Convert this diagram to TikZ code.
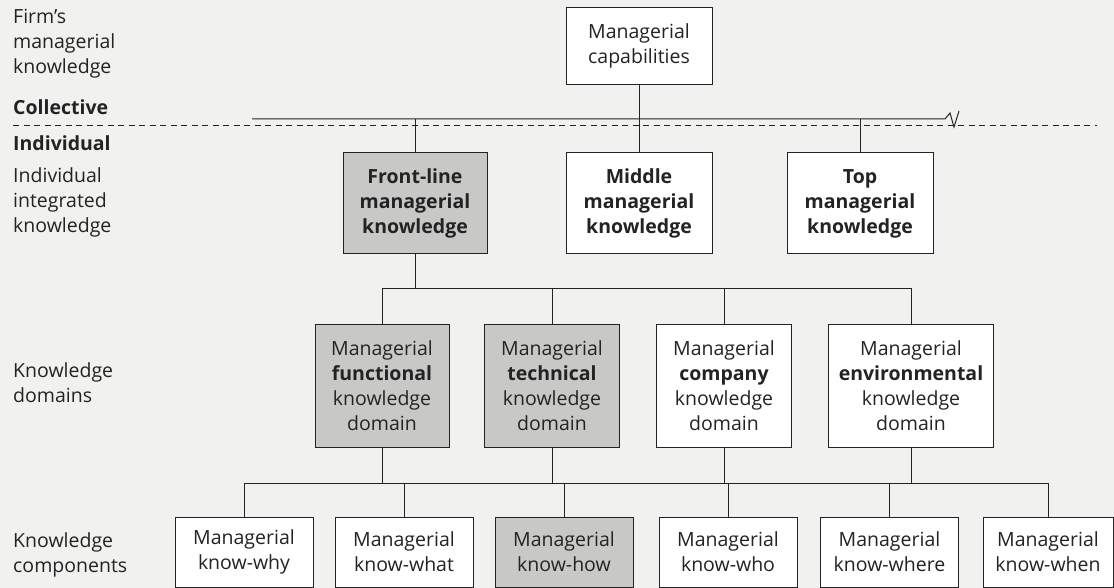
\documentclass[tikz,border=0pt]{standalone}
\usepackage{fontspec}
\setmainfont{Open Sans}
\usetikzlibrary{positioning}
\definecolor{paper}{RGB}{241,241,239}
\definecolor{boxgray}{RGB}{200,200,198}
\definecolor{ink}{RGB}{35,35,35}
\tikzset{
	box/.style={draw=ink,line width=1pt,fill=white,align=center,inner sep=0pt,text=ink,font=\fontsize{19.5}{25}\selectfont},
	shaded/.style={box,fill=boxgray},
	toprow/.style={minimum width=146pt,minimum height=101pt,font=\fontsize{19.5}{25}\selectfont\bfseries},
	domrow/.style={minimum width=135pt,minimum height=123pt},
	comprow/.style={minimum width=138pt,minimum height=70pt},
	sidetext/.style={anchor=west,align=left,inner sep=0pt,text=ink,font=\fontsize{19.5}{25}\selectfont},
	wire/.style={draw=ink,line width=1pt}
}
\begin{document}
\begin{tikzpicture}[x=1pt,y=-1pt]
	\fill[paper](0,0)rectangle(1114,588);
	% side labels
	\node[sidetext](firm)at(13,44){Firm's\\managerial\\knowledge};
	\node[sidetext,font=\fontsize{19.5}{25}\selectfont\bfseries](coll)at(13,107){Collective};
	\node[sidetext,font=\fontsize{19.5}{25}\selectfont\bfseries](indiv)at(13,143){Individual};
	\node[sidetext](integ)at(13,202){Individual\\integrated\\knowledge};
	\node[sidetext](doms)at(13,383){Knowledge\\domains};
	\node[sidetext](comps)at(13,555){Knowledge\\components};
	\coordinate(divw)at(13,125);
	\coordinate(dive)at(1097,125);
	\draw[ink,line width=.9pt,dash pattern=on 6pt off 4.5pt](divw)--(dive);
	% boxes
	\node[box,minimum width=146pt,minimum height=77pt](capab)at(639,46){Managerial\\capabilities};
	\node[shaded,toprow,minimum width=144pt](front)at(415,203.5){Front-line\\managerial\\knowledge};
	\node[box,toprow](middle)at(639,203.5){Middle\\managerial\\knowledge};
	\node[box,toprow](top)at(860,203.5){Top\\managerial\\knowledge};
	\node[shaded,domrow,minimum width=134pt](func)at(382,385.5){Managerial\\\textbf{functional}\\knowledge\\domain};
	\node[shaded,domrow](tech)at(552,385.5){Managerial\\\textbf{technical}\\knowledge\\domain};
	\node[box,domrow](comp)at(724,385.5){Managerial\\\textbf{company}\\knowledge\\domain};
	\node[box,domrow,minimum width=165pt](envir)at(911,385.5){Managerial\\\textbf{environmental}\\knowledge\\domain};
	\node[box,comprow](why)at(244,552){Managerial\\know-why};
	\node[box,comprow](what)at(404,552){Managerial\\know-what};
	\node[shaded,comprow](how)at(564,552){Managerial\\know-how};
	\node[box,comprow](who)at(728,552){Managerial\\know-who};
	\node[box,comprow](where)at(889.5,552){Managerial\\know-where};
	\node[box,comprow,minimum width=130pt](when)at(1048,552){Managerial\\know-when};
	% connectors
	\coordinate(b1w)at(252,119);
	\coordinate(b1e)at(945,119);
	\draw[wire](b1w)--(b1e)--++(5,-6)--++(4,14)--++(5,-16);
	\draw[wire](capab.south)--(capab.south|-b1w);
	\foreach \n in {front,middle,top}
		\draw[wire](\n.north)--(\n.north|-b1w);
	\coordinate(b2)at(0,288);
	\draw[wire](front.south)--(front.south|-b2);
	\draw[wire](func.north|-b2)--(envir.north|-b2);
	\foreach \n in {func,tech,comp,envir}
		\draw[wire](\n.north)--(\n.north|-b2);
	\coordinate(b3)at(0,483);
	\draw[wire](why.north|-b3)--(when.north|-b3);
	\foreach \n in {func,tech,comp,envir}
		\draw[wire](\n.south)--(\n.south|-b3);
	\foreach \n in {why,what,how,who,where,when}
		\draw[wire](\n.north)--(\n.north|-b3);
\end{tikzpicture}
\end{document}
